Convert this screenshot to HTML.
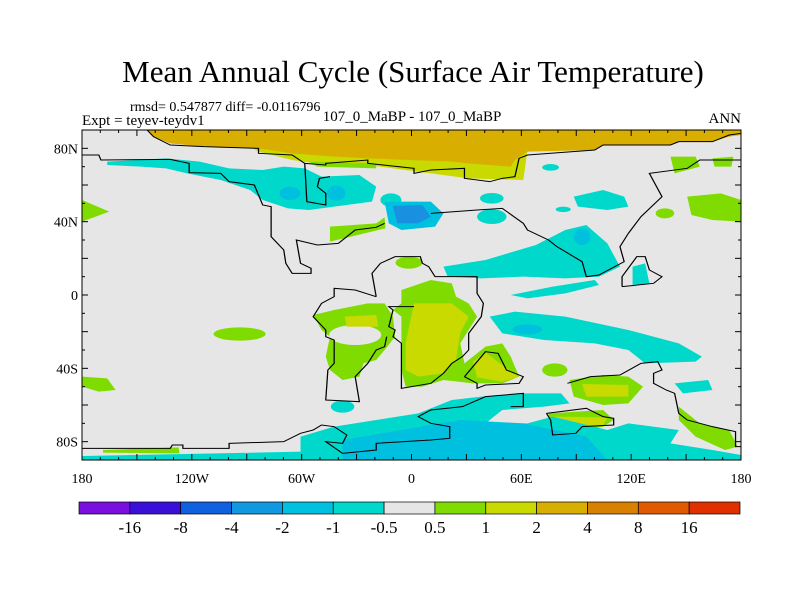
<!DOCTYPE html>
<html><head><meta charset="utf-8"><style>
html,body{margin:0;padding:0;background:#fff;width:800px;height:600px;overflow:hidden;font-family:"Liberation Serif",serif}
svg text{font-family:"Liberation Serif",serif}
</style></head><body>
<svg id="root" width="800" height="600" viewBox="0 0 800 600">
<text x="413" y="82" text-anchor="middle" font-size="31">Mean Annual Cycle (Surface Air Temperature)</text>
<text x="130" y="111" font-size="14">rmsd= 0.547877 diff= -0.0116796</text>
<text x="82" y="125" font-size="15">Expt = teyev-teydv1</text>
<text x="412" y="121" text-anchor="middle" font-size="15">107_0_MaBP - 107_0_MaBP</text>
<text x="741" y="123" text-anchor="end" font-size="15">ANN</text>
<svg x="82" y="130" width="659" height="330" viewBox="0 0 1568 990" preserveAspectRatio="none">
<rect width="1568" height="990" fill="#e6e6e6"/>
<g>
<polygon fill="#c8da00" points="400,50 1060,60 1050,150 920,145 830,130 680,105 580,105 500,90 420,65"/>
<polygon fill="#80dc00" points="540,95 700,100 700,115 560,110"/>
<polygon fill="#d8ae00" points="155,0 1568,0 1568,15 1540,20 1500,35 1420,35 1400,45 1240,45 1220,60 1060,65 1030,90 1020,110 920,100 880,95 680,85 580,78 500,70 420,55 290,50 210,40 170,20"/>
<polygon fill="#80dc00" points="1400,80 1460,80 1470,110 1410,130"/>
<polygon fill="#80dc00" points="1500,85 1550,80 1545,110 1505,110"/>
<polygon fill="#80dc00" points="1440,200 1520,190 1568,210 1568,275 1500,270 1450,255"/>
<ellipse fill="#80dc00" cx="1387" cy="250" rx="22" ry="15"/>
<polygon fill="#80dc00" points="0,210 65,245 0,275"/>
<polygon fill="#80dc00" points="590,290 700,280 720,262 722,295 640,320 590,335"/>
<ellipse fill="#80dc00" cx="778" cy="398" rx="32" ry="18"/>
<ellipse fill="#80dc00" cx="375" cy="612" rx="62" ry="20"/>
<polygon fill="#80dc00" points="0,740 60,745 80,780 40,785 0,770"/>
<polygon fill="#80dc00" points="550,555 600,540 680,520 720,520 740,560 745,620 720,660 700,690 670,700 660,740 620,750 590,720 580,680 590,620 570,600"/>
<ellipse fill="#e6e6e6" cx="650" cy="615" rx="62" ry="30"/>
<polygon fill="#c8da00" points="625,560 700,555 705,590 630,590"/>
<polygon fill="#80dc00" points="760,480 830,450 880,460 890,500 920,520 940,560 920,600 900,640 910,700 960,650 1000,640 1020,680 1040,740 1000,760 930,760 860,750 810,770 770,770 760,720 760,560 740,540 760,520"/>
<polygon fill="#c8da00" points="790,520 880,520 920,560 900,610 890,690 860,730 800,740 770,720 770,640 780,580"/>
<polygon fill="#c8da00" points="930,695 960,668 1000,705 1040,740 1000,755 940,742"/>
<ellipse fill="#80dc00" cx="1125" cy="720" rx="30" ry="20"/>
<polygon fill="#80dc00" points="1160,750 1240,735 1300,740 1335,770 1300,820 1240,825 1170,800"/>
<polygon fill="#c8da00" points="1190,762 1300,765 1300,800 1200,800"/>
<polygon fill="#80dc00" points="1110,850 1240,840 1265,870 1240,890 1120,915 1110,880"/>
<polygon fill="#c8da00" points="1120,860 1250,862 1240,885 1125,910"/>
<polygon fill="#80dc00" points="1420,830 1470,880 1540,900 1560,950 1530,960 1460,920 1420,870"/>
<polygon fill="#80dc00" points="50,960 230,952 232,970 50,968"/>
</g>
<g>
<polygon fill="#00d8cc" points="60,95 200,85 280,95 350,115 430,120 480,110 530,115 570,140 660,135 700,170 690,215 600,230 540,240 490,235 430,210 400,180 330,150 250,130 200,115 140,110 60,105"/>
<ellipse fill="#00c0e0" cx="495" cy="190" rx="25" ry="20"/>
<ellipse fill="#00c0e0" cx="605" cy="190" rx="22" ry="22"/>
<ellipse fill="#00d8cc" cx="735" cy="210" rx="25" ry="20"/>
<polygon fill="#00c0e0" points="720,215 830,215 860,250 840,290 760,300 730,280"/>
<polygon fill="#1a90e0" points="740,228 810,225 830,260 800,280 750,280"/>
<ellipse fill="#00d8cc" cx="975" cy="205" rx="28" ry="16"/>
<ellipse fill="#00d8cc" cx="975" cy="260" rx="35" ry="22"/>
<polygon fill="#00d8cc" points="1170,200 1240,180 1290,200 1300,230 1250,240 1180,230"/>
<ellipse fill="#00d8cc" cx="1145" cy="238" rx="18" ry="8"/>
<ellipse fill="#00d8cc" cx="1115" cy="112" rx="20" ry="10"/>
<polygon fill="#00d8cc" points="860,410 960,390 1080,345 1150,300 1200,285 1250,340 1280,410 1230,440 1150,445 1050,440 950,445 870,440"/>
<ellipse fill="#00c0e0" cx="1190" cy="320" rx="20" ry="25"/>
<polygon fill="#00d8cc" points="1020,495 1120,470 1220,450 1230,465 1150,490 1060,505"/>
<polygon fill="#00d8cc" points="1310,410 1340,400 1350,460 1310,465"/>
<polygon fill="#00d8cc" points="970,560 1030,545 1150,560 1300,600 1420,640 1475,680 1460,695 1340,700 1300,660 1220,640 1100,630 1000,610"/>
<ellipse fill="#00c0e0" cx="1060" cy="598" rx="35" ry="15"/>
<polygon fill="#00d8cc" points="1410,760 1490,750 1500,780 1430,790"/>
<ellipse fill="#00d8cc" cx="620" cy="830" rx="28" ry="18"/>
<polygon fill="#00d8cc" points="520,990 520,920 600,890 700,870 800,850 880,810 950,800 1050,790 1140,790 1160,820 1100,830 1000,840 960,880 1060,880 1120,860 1250,900 1300,880 1420,900 1400,940 1500,960 1568,975 1568,990"/>
<polygon fill="#00c0e0" points="620,930 760,900 900,870 1050,880 1200,920 1250,990 620,990"/>
<polygon fill="#00d8cc" points="0,978 520,965 520,990 0,990"/>
</g>
<g fill="none" stroke="#000" stroke-width="3">
<polyline points="155,0 170,20 210,45 290,50 420,55 420,70 500,75 530,100 580,105 580,100 680,90 680,100 790,115 790,130 830,120 910,115 910,145 970,155 1000,145 1030,140 1040,85 1060,75 1220,60 1240,45 1400,45 1420,35 1500,35 1540,15 1568,10"/>
<polyline points="0,75 40,75 45,90 210,88 255,100 255,128 330,130 350,155 410,165 430,225 450,230 450,320 480,360 485,400 500,430 545,430 545,415 520,400 510,330 560,345 610,340 650,300 700,292 720,280"/>
<polyline points="530,100 535,215 580,225 580,190 560,170 565,145 590,140"/>
<polyline points="830,250 940,240 1000,235 1050,280 1060,300 1110,330 1130,350 1190,395 1200,440 1230,435 1290,395 1280,350 1300,310 1330,260 1380,200 1350,130 1440,115 1470,90 1568,90"/>
<polyline points="700,500 690,430 710,400 745,380 805,380 810,400 825,410 840,440 940,440 940,490 955,520 950,560 920,610 920,660 905,680 880,700 860,730 830,760 760,775 760,640 740,620 745,600 730,590 740,540 730,530 790,530"/>
<polyline points="700,500 650,480 600,475 600,500 570,520 550,560 580,600 580,620 600,630 600,700 585,720 580,810 660,815 650,740 680,700 700,660 720,650 725,620"/>
<polyline points="0,955 210,955 215,945 240,945 240,955 350,955 350,940 480,935 520,910 550,900 570,885 600,890 630,915 620,940 580,935 620,970 700,960 700,940 830,930 875,925 875,890 830,880 800,860 830,840 905,830 960,800 1050,790 1050,830 1020,830"/>
<polyline points="1105,850 1200,835 1240,860 1265,865 1265,885 1190,890 1175,910 1120,915 1115,870 1105,850"/>
<polyline points="910,740 960,665 990,670 1010,720 1050,740 1040,760 960,765 940,775 940,760 910,740"/>
<polyline points="1155,760 1210,740 1280,735 1330,700 1370,695 1380,720 1360,730 1360,760 1390,780 1410,790 1420,850 1440,870 1500,890 1555,905 1555,950 1568,950"/>
<polyline points="1285,470 1285,440 1320,380 1340,380 1350,420 1380,440 1360,460 1285,470"/>
</g>
</svg>
<rect x="82" y="130" width="659" height="330" fill="none" stroke="#000" stroke-width="1"/>
<g id="axes"></g>
<g id="cbar"></g>
</svg>
<script>
const lonTicks = [-180,-120,-60,0,60,120,180];
const lonLabels = ["180","120W","60W","0","60E","120E","180"];
const latTicks = [80,40,0,-40,-80];
const latLabels = ["80N","40N","0","40S","80S"];
const levelLabels = ["-16","-8","-4","-2","-1","-0.5","0.5","1","2","4","8","16"];
const levelColors = ["#7a10e0","#3a10d8","#1060e0","#1098e0","#00c0e0","#00d8cc","#e6e6e6","#80dc00","#c8da00","#d8ae00","#d88000","#e05a00","#e03000"];
const NS="http://www.w3.org/2000/svg";
const X0=82,X1=741,Y0=130,Y1=460;
function xLon(l){return X0+(l+180)/360*(X1-X0);}
function yLat(l){return Y0+(90-l)/180*(Y1-Y0);}
const ax=document.getElementById('axes');
function ln(p,x1,y1,x2,y2){const e=document.createElementNS(NS,'line');e.setAttribute('x1',x1);e.setAttribute('y1',y1);e.setAttribute('x2',x2);e.setAttribute('y2',y2);e.setAttribute('stroke','#000');e.setAttribute('stroke-width','1');p.appendChild(e);return e;}
function tx(p,x,y,s,anchor,size){const e=document.createElementNS(NS,'text');e.setAttribute('x',x);e.setAttribute('y',y);e.setAttribute('text-anchor',anchor);e.setAttribute('font-size',size);e.textContent=s;p.appendChild(e);return e;}
for(let l=-180;l<=180;l+=10){const x=xLon(l);const m=(l%30===0)?6:3;
const t1=ln(ax,x,Y0,x,Y0+m);


const t2=ln(ax,x,Y1,x,Y1-m);

}
for(let l=-90;l<=90;l+=10){const y=yLat(l);const m=(l%20===0)?6:3;
const t1=ln(ax,X0,y,X0+m,y);


const t2=ln(ax,X1,y,X1-m,y);

}
lonTicks.forEach((l,i)=>{const t=tx(ax,xLon(l),483,lonLabels[i],'middle',14);

});
latTicks.forEach((l,i)=>{const t=tx(ax,X0-4,yLat(l)+5,latLabels[i],'end',14);

});
const cb=document.getElementById('cbar');
const CB0=79,CB1=740,n=levelColors.length,w=(CB1-CB0)/n;
levelColors.forEach((c,i)=>{const r=document.createElementNS(NS,'rect');
r.setAttribute('x',CB0+i*w);r.setAttribute('y',502);r.setAttribute('width',w);r.setAttribute('height',12);
r.setAttribute('fill',c);r.setAttribute('stroke','#000');r.setAttribute('stroke-width','0.7');


cb.appendChild(r);});
levelLabels.forEach((s,i)=>{const t=tx(cb,CB0+(i+1)*w,533,s,'middle',17);

});
</script>
</body></html>
